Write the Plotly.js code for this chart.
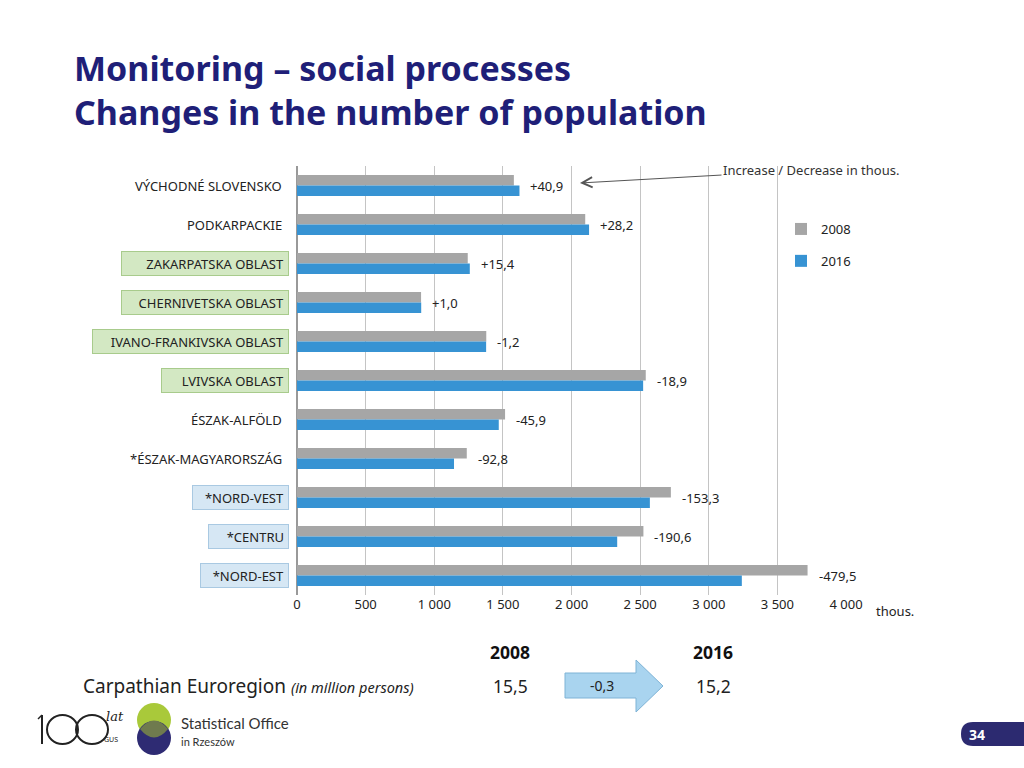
<!DOCTYPE html>
<html>
<head>
<meta charset="utf-8">
<script src="https://cdn.plot.ly/plotly-3.0.1.min.js"></script>
<style>
html,body{margin:0;padding:0;background:#fff;}
#chart{width:1024px;height:768px;}
</style>
</head>
<body>
<div id="chart"></div>
<script>
// ---- data ----
var regions = ['VÝCHODNÉ SLOVENSKO','PODKARPACKIE','ZAKARPATSKA OBLAST','CHERNIVETSKA OBLAST',
  'IVANO-FRANKIVSKA OBLAST','LVIVSKA OBLAST','ÉSZAK-ALFÖLD','*ÉSZAK-MAGYARORSZÁG',
  '*NORD-VEST','*CENTRU','*NORD-EST'];
var pop2008 = [1580, 2100, 1244, 904, 1379, 2541, 1516, 1237, 2724, 2524, 3720];
var pop2016 = [1621, 2128, 1259, 905, 1378, 2522, 1470, 1144, 2571, 2333, 3241];
var changes = ['+40,9','+28,2','+15,4','+1,0','-1,2','-18,9','-45,9','-92,8','-153,3','-190,6','-479,5'];
var regionGroup = ['SK','PL','UA','UA','UA','UA','HU','HU','RO','RO','RO'];
var seriesNames = ['2008','2016'];
var totalYears = ['2008','2016'];
var totalValues = ['15,5','15,2'];
var totalChange = '-0,3';

// ---- styles ----
var boxStyle = {
  UA: {bg:'#D3E8C3', border:'#A8CB8C'},
  RO: {bg:'#D6E7F4', border:'#A9C9E2'}
};
var boxWidth = {2:168, 3:168, 4:197, 5:128, 8:97, 9:81, 10:89};

var L = 297, R = 846, T = 166, B = 595;
function px(x){ return (x - L) / (R - L); }
function py(y){ return (B - y) / (B - T); }

var font = 'Noto Sans, Open Sans, sans-serif';
var navy = '#1F1F78';
var fs = 13;

var traces = [
  {type:'bar', orientation:'h', name:seriesNames[0], y:regions, x:pop2008,
   marker:{color:'#A6A6A6'}, legendgroup:'a', hoverinfo:'x+y'},
  {type:'bar', orientation:'h', name:seriesNames[1], y:regions, x:pop2016,
   marker:{color:'#3793D3'}, legendgroup:'b', hoverinfo:'x+y'}
];

var ann = [];
// category labels
regions.forEach(function(r, i){
  var g = boxStyle[regionGroup[i]];
  var a = {xref:'paper', yref:'y', x:0, y:r, xanchor:'right', yanchor:'middle',
    xshift:-8, text:r, showarrow:false, align:'right',
    font:{family:font, size:fs, color:'#222'}};
  if (g) {
    a.bgcolor = g.bg; a.bordercolor = g.border; a.borderwidth = 1; a.borderpad = 4;
    a.width = boxWidth[i] - 10; a.height = 15;
  } else {
    a.xshift = -13;
  }
  ann.push(a);
});
// change labels
regions.forEach(function(r, i){
  ann.push({xref:'x', yref:'y', x:Math.max(pop2008[i], pop2016[i]), y:r,
    xanchor:'left', yanchor:'middle', xshift:9, text:changes[i], showarrow:false,
    font:{family:font, size:fs, color:'#222'}});
});
// increase/decrease with arrow
ann.push({xref:'paper', yref:'paper', x:px(580), y:py(183), ax:231, ay:-13,
  text:'Increase / Decrease in thous.', showarrow:true, arrowhead:5, arrowsize:2,
  arrowwidth:1, arrowcolor:'#555', font:{family:font, size:fs, color:'#333'}});
// thous.
ann.push({xref:'paper', yref:'paper', x:px(874), y:py(611), xanchor:'left', yanchor:'middle',
  text:'thous.', showarrow:false, font:{family:font, size:fs, color:'#222'}});
// title
ann.push({xref:'paper', yref:'paper', x:px(72), y:py(68), xanchor:'left', yanchor:'middle',
  text:'<b>Monitoring – social processes</b>', showarrow:false,
  font:{family:font, size:34, color:navy}});
ann.push({xref:'paper', yref:'paper', x:px(72), y:py(112), xanchor:'left', yanchor:'middle',
  text:'<b>Changes in the number of population</b>', showarrow:false,
  font:{family:font, size:34, color:navy}});
// bottom summary
ann.push({xref:'paper', yref:'paper', x:px(81), y:py(686), xanchor:'left', yanchor:'middle',
  text:'Carpathian Euroregion <i><span style="font-size:14.5px">(in million persons)</span></i>',
  showarrow:false, font:{family:font, size:19, color:'#222'}});
var colX = [510, 713];
totalYears.forEach(function(t, i){
  ann.push({xref:'paper', yref:'paper', x:px(colX[i]), y:py(652), xanchor:'center', yanchor:'middle',
    text:'<b>'+t+'</b>', showarrow:false, font:{family:font, size:17.5, color:'#111'}});
  ann.push({xref:'paper', yref:'paper', x:px(colX[i]), y:py(686), xanchor:'center', yanchor:'middle',
    text:totalValues[i], showarrow:false, font:{family:font, size:17.5, color:'#222'}});
});
ann.push({xref:'paper', yref:'paper', x:px(602), y:py(685), xanchor:'center', yanchor:'middle',
  text:totalChange, showarrow:false, font:{family:font, size:14, color:'#222'}});
// logos text
ann.push({xref:'paper', yref:'paper', x:px(115), y:py(716), xanchor:'center', yanchor:'middle',
  text:'<i>lat</i>', showarrow:false, font:{family:'DejaVu Serif, serif', size:13, color:'#222'}});
ann.push({xref:'paper', yref:'paper', x:px(111), y:py(739), xanchor:'center', yanchor:'middle',
  text:'GUS', showarrow:false, font:{family:font, size:7, color:'#222'}});
ann.push({xref:'paper', yref:'paper', x:px(179), y:py(723), xanchor:'left', yanchor:'middle',
  text:'Statistical Office', showarrow:false, font:{family:'Lato, sans-serif', size:15, color:'#333'}});
ann.push({xref:'paper', yref:'paper', x:px(179), y:py(741), xanchor:'left', yanchor:'middle',
  text:'in Rzeszów', showarrow:false, font:{family:'Lato, sans-serif', size:11, color:'#333'}});
// page number
ann.push({xref:'paper', yref:'paper', x:px(977), y:py(734), xanchor:'center', yanchor:'middle',
  text:'<b>34</b>', showarrow:false, font:{family:font, size:14, color:'#fff'}});

function P(pts, close){
  var s = 'M' + pts.map(function(p){ return px(p[0]) + ',' + py(p[1]); }).join(' L');
  return s + (close ? ' Z' : '');
}
var shapes = [];
// summary arrow
shapes.push({type:'path', xref:'paper', yref:'paper',
  path:P([[565,673],[636,673],[636,660],[663,686],[636,712],[636,698],[565,698]], true),
  fillcolor:'#A9D4EF', line:{color:'#7EB3D6', width:1}});
// page number tab
var pn = 'M' + px(1026) + ',' + py(722) + ' L' + px(973) + ',' + py(722) +
  ' Q' + px(961) + ',' + py(722) + ' ' + px(961) + ',' + py(734) +
  ' Q' + px(961) + ',' + py(746) + ' ' + px(973) + ',' + py(746) +
  ' L' + px(1026) + ',' + py(746) + ' Z';
shapes.push({type:'path', xref:'paper', yref:'paper', path:pn, fillcolor:'#2C2A70', line:{width:0}});
// logo circles
function circ(cx, cy, r, col){
  return {type:'circle', xref:'paper', yref:'paper', x0:px(cx-r), x1:px(cx+r), y0:py(cy+r), y1:py(cy-r),
    fillcolor:col, line:{width:0}};
}
shapes.push(circ(154, 720, 17, '#A9C93A'));
shapes.push(circ(154, 738, 17, '#2E2B73'));
var lens = 'M' + px(140) + ',' + py(729) +
  ' Q' + px(154) + ',' + py(712) + ' ' + px(168) + ',' + py(729) +
  ' Q' + px(154) + ',' + py(746) + ' ' + px(140) + ',' + py(729) + ' Z';
shapes.push({type:'path', xref:'paper', yref:'paper', path:lens, fillcolor:'#6F7A4E', line:{width:0}});
// "100" logo drawn as strokes
shapes.push({type:'line', xref:'paper', yref:'paper', x0:px(42), x1:px(42), y0:py(715), y1:py(744),
  line:{color:'#222', width:2}});
shapes.push({type:'line', xref:'paper', yref:'paper', x0:px(42), x1:px(38), y0:py(715), y1:py(719),
  line:{color:'#222', width:1.5}});
shapes.push({type:'circle', xref:'paper', yref:'paper', x0:px(47), x1:px(78), y0:py(744), y1:py(715),
  line:{color:'#222', width:2}, fillcolor:'rgba(0,0,0,0)'});
shapes.push({type:'circle', xref:'paper', yref:'paper', x0:px(76), x1:px(108), y0:py(744), y1:py(715),
  line:{color:'#222', width:2}, fillcolor:'rgba(0,0,0,0)'});

var layout = {
  width:1024, height:768,
  margin:{l:L, r:1024-R, t:T, b:768-B},
  paper_bgcolor:'#fff', plot_bgcolor:'#fff',
  barmode:'group', bargap:0.46, bargroupgap:0,
  separators:', ',
  showlegend:true,
  legend:{x:px(781), y:py(214), xanchor:'left', yanchor:'top', traceorder:'grouped',
    tracegroupgap:12, font:{family:font, size:fs, color:'#222'}, itemwidth:30, bgcolor:'rgba(0,0,0,0)'},
  xaxis:{range:[0,4000], dtick:500, tickformat:',d', showgrid:true, gridcolor:'#C4C4C4', gridwidth:1,
    zeroline:true, zerolinecolor:'#999', zerolinewidth:1.5, ticks:'', showline:false,
    tickfont:{family:font, size:fs, color:'#222'}, fixedrange:true},
  yaxis:{type:'category', autorange:'reversed', showticklabels:false, showgrid:false,
    zeroline:false, showline:false, ticks:'', fixedrange:true},
  annotations:ann,
  shapes:shapes,
  font:{family:font}
};

Plotly.newPlot('chart', traces, layout, {displayModeBar:false, staticPlot:true});
</script>
</body>
</html>
